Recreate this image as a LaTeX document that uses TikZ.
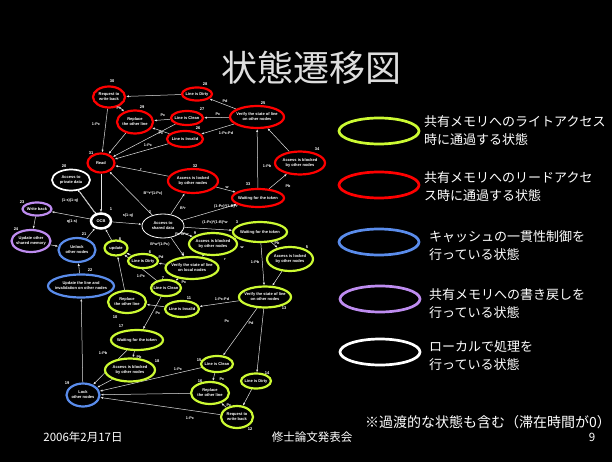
\documentclass[tikz,border=0pt]{standalone}
\usepackage{fontspec}
\setmainfont{Liberation Sans}
\newfontfamily\jp{Noto Sans CJK JP}
\usetikzlibrary{shapes.geometric,arrows.meta}
\definecolor{cG}{RGB}{204,250,51}
\definecolor{cR}{RGB}{255,0,0}
\definecolor{cB}{RGB}{90,140,235}
\definecolor{cP}{RGB}{190,140,240}
\definecolor{tgray}{RGB}{222,222,222}
\definecolor{egray}{RGB}{225,225,225}
\pgfdeclarelayer{back}
\pgfdeclarelayer{edges}
\pgfsetlayers{back,edges,main}
\begin{document}
\begin{tikzpicture}[x=1pt,y=-1pt,
  st/.style={ellipse, draw, fill=black, line width=2.2pt, inner sep=0pt},
  gn/.style={st, draw=cG},
  rd/.style={st, draw=cR},
  bl/.style={st, draw=cB},
  pu/.style={st, draw=cP},
  wh/.style={st, draw=white},
  txt/.style={text=white, align=center, inner sep=0pt, font=\bfseries\fontsize{4.0}{4.9}\selectfont},
  num/.style={text=white, inner sep=0pt, font=\bfseries\fontsize{4.0}{4}\selectfont},
  lbl/.style={text=white, inner sep=0pt, font=\bfseries\fontsize{3.8}{4}\selectfont},
  ed/.style={draw=egray, line width=0.5pt, -{Latex[length=2.8pt,width=2.2pt]}},
  leg/.style={ellipse, draw, line width=2.7pt, minimum width=80pt, minimum height=26pt, inner sep=0pt},
  legt/.style={text=white, anchor=west, align=left, inner sep=0pt, font=\jp\fontsize{13}{18}\selectfont},
  foot/.style={text=white, inner sep=0pt, font=\jp\fontsize{11.5}{12}\selectfont},
]
\begin{pgfonlayer}{back}
\fill[black] (0,0) rectangle (612,462);
\end{pgfonlayer}
\useasboundingbox (0,0) rectangle (612,462);

% title
\node[text=tgray, font=\jp\fontsize{36}{38}\selectfont, inner sep=0pt] (title) at (311,68) {状態遷移図};

% ---------- red nodes ----------
\node[rd, minimum width=32pt, minimum height=21pt] (reqR) at (109,97) {};
\node[txt] (reqRt) at (reqR) {Request to\\write back};
\node[num] (n30) at (112,81) {30};
\node[rd, minimum width=36pt, minimum height=23pt] (replR) at (135,122) {};
\node[txt] (replRt) at (replR) {Replace\\the other line};
\node[num] (n29) at (142,107) {29};
\node[rd, minimum width=30pt, minimum height=13pt] (dirtyR) at (197,94) {};
\node[txt] (dirtyRt) at (dirtyR) {Line is Dirty};
\node[num] (n28) at (205,84) {28};
\node[rd, minimum width=32pt, minimum height=14pt] (cleanR) at (187,118) {};
\node[txt] (cleanRt) at (cleanR) {Line is Clean};
\node[num] (n27) at (202,109) {27};
\node[rd, minimum width=36pt, minimum height=16pt] (invR) at (185,139) {};
\node[txt] (invRt) at (invR) {Line is Invalid};
\node[num] (n26) at (198,128) {26};
\node[rd, minimum width=54pt, minimum height=22pt] (verR) at (257,117) {};
\node[txt] (verRt) at (verR) {Verify the state of line\\on other nodes};
\node[num] (n25) at (263,103) {25};
\node[rd, minimum width=27pt, minimum height=19pt] (read) at (101,163) {};
\node[txt] (readt) at (read) {Read};
\node[num] (n31) at (91,153) {31};
\node[rd, minimum width=50pt, minimum height=24pt] (lockR) at (193,181) {};
\node[txt] (lockRt) at (lockR) {Access is locked\\by other nodes};
\node[num] (n32) at (195,166) {32};
\node[rd, minimum width=52pt, minimum height=18pt] (waitR) at (258,198) {};
\node[txt] (waitRt) at (waitR) {Waiting for the token};
\node[num] (n33) at (248,184) {33};
\node[rd, minimum width=50pt, minimum height=23pt] (blkR) at (300,163) {};
\node[txt] (blkRt) at (blkR) {Access is blocked\\by other nodes};
\node[num] (n34) at (317,149) {34};

% ---------- white nodes ----------
\node[wh, line width=1.7pt, minimum width=38pt, minimum height=21pt] (priv) at (71,180) {};
\node[txt] (privt) at (priv) {Access to\\private data};
\node[num] (n20) at (64,166) {20};
\node[wh, line width=2.5pt, minimum width=20pt, minimum height=15pt] (ocb) at (101,221) {};
\node[txt] (ocbt) at (ocb) {OCB};
\node[num] (n1) at (111,209) {1};
\node[wh, line width=0.8pt, minimum width=42pt, minimum height=24pt] (shared) at (163,226) {};
\node[txt] (sharedt) at (shared) {Access to\\shared data};
\node[num] (n2) at (150,212) {2};

% ---------- purple nodes ----------
\node[pu, minimum width=29pt, minimum height=13pt] (wb) at (37,209) {};
\node[txt] (wbt) at (wb) {Write back};
\node[num] (n23) at (22,202) {23};
\node[pu, minimum width=39pt, minimum height=22pt] (updO) at (31,241) {};
\node[txt] (updOt) at (updO) {Update other\\shared memory};
\node[num] (n24) at (16,229) {24};

% ---------- blue nodes ----------
\node[bl, minimum width=37pt, minimum height=24pt] (unlock) at (77,250) {};
\node[txt] (unlockt) at (unlock) {Unlock\\other nodes};
\node[num] (n21) at (84,234) {21};
\node[bl, minimum width=66pt, minimum height=23pt] (updL) at (81,286) {};
\node[txt] (updLt) at (updL) {Update the line and\\invalidation on other nodes};
\node[num] (n22) at (90,270) {22};
\node[bl, minimum width=33pt, minimum height=23pt] (lock) at (83,395) {};
\node[txt] (lockt) at (lock) {Lock\\other nodes};
\node[num] (n19) at (67,383) {19};

% ---------- green nodes ----------
\node[gn, minimum width=23pt, minimum height=15pt] (upd) at (116,248) {};
\node[txt] (updt) at (upd) {update};
\node[num] (n8) at (120,239) {8};
\node[gn, minimum width=30pt, minimum height=14pt] (dirtyG) at (143,261) {};
\node[txt] (dirtyGt) at (dirtyG) {Line is Dirty};
\node[num] (n6) at (150,252) {6};
\node[gn, minimum width=53pt, minimum height=22pt] (verL) at (192,268) {};
\node[txt] (verLt) at (verL) {Verify the state of line\\on local nodes};
\node[num] (n4) at (183,254) {4};
\node[gn, minimum width=48pt, minimum height=22pt] (blkG) at (213,244) {};
\node[txt] (blkGt) at (blkG) {Access is blocked\\by other nodes};
\node[num] (n9) at (195,233) {9};
\node[gn, minimum width=54pt, minimum height=20pt] (waitG) at (260,232) {};
\node[txt] (waitGt) at (waitG) {Waiting for the token};
\node[num] (n3) at (237,222) {3};
\node[gn, minimum width=46pt, minimum height=24pt] (lkG) at (290,259) {};
\node[txt] (lkGt) at (lkG) {Access is locked\\by other nodes};
\node[num] (n5) at (307,247) {5};
\node[gn, minimum width=30pt, minimum height=16pt] (cleanG) at (166,288) {};
\node[txt] (cleanGt) at (cleanG) {Line is Clean};
\node[num] (n7) at (163,278) {7};
\node[gn, minimum width=34pt, minimum height=16pt] (invG) at (182,309) {};
\node[txt] (invGt) at (invG) {Line is Invalid};
\node[num] (n11) at (189,298) {11};
\node[gn, minimum width=38pt, minimum height=22pt] (replG) at (127,302) {};
\node[txt] (replGt) at (replG) {Replace\\the other line};
\node[num] (n10) at (115,317) {10};
\node[gn, minimum width=52pt, minimum height=21pt] (verO) at (265,297) {};
\node[txt] (verOt) at (verO) {Verify the state of line\\on other nodes};
\node[num] (n13) at (284,308) {13};
\node[gn, minimum width=52pt, minimum height=20pt] (wait2) at (137,340) {};
\node[txt] (wait2t) at (wait2) {Waiting for the token};
\node[num] (n17) at (121,326) {17};
\node[gn, minimum width=50pt, minimum height=23pt] (blk2) at (130,370) {};
\node[txt] (blk2t) at (blk2) {Access is blocked\\by other nodes};
\node[num] (n18) at (157,361) {18};
\node[gn, minimum width=32pt, minimum height=16pt] (cleanL) at (217,364) {};
\node[txt] (cleanLt) at (cleanL) {Line is Clean};
\node[num] (n15) at (199,360) {15};
\node[gn, minimum width=30pt, minimum height=15pt] (dirtyL) at (256,381) {};
\node[txt] (dirtyLt) at (dirtyL) {Line is Dirty};
\node[num] (n14) at (267,373) {14};
\node[gn, minimum width=38pt, minimum height=22pt] (replL) at (210,393) {};
\node[txt] (replLt) at (replL) {Replace\\the other line};
\node[num] (n16) at (200,381) {16};
\node[gn, minimum width=32pt, minimum height=22pt] (reqL) at (237,417) {};
\node[txt] (reqLt) at (reqL) {Request to\\write back};
\node[num] (n12) at (250,429) {12};

% ---------- connectors ----------
\begin{pgfonlayer}{edges}
\draw[ed] (dirtyR) -- (reqR);
\draw[ed] (reqR) -- (replR);
\draw[ed] (reqR) -- (read);
\draw[ed] (cleanR) -- (replR);
\draw[ed] (invR) -- (replR);
\draw[ed] (replR) -- (read);
\draw[ed] (cleanR) -- (read);
\draw[ed] (invR) -- (read);
\draw[ed] (verR) -- (dirtyR);
\draw[ed] (verR) -- (cleanR);
\draw[ed] (verR) -- (invR);
\draw[ed] (waitR) -- (verR);
\draw[ed] (waitR) -- (blkR);
\draw[ed] (blkR) -- (verR);
\draw[ed] (lockR) -- (waitR);
\draw[ed] (lockR) -- (read);
\draw[ed] (shared) -- (read);
\draw[ed] (shared) -- (lockR);
\draw[ed] (shared) -- (waitR);
\draw[ed] (read) -- (ocb);
\draw[ed, transform canvas={xshift=-1.2pt,yshift=1.2pt}] (ocb) -- (priv);
\draw[ed, transform canvas={xshift=1.2pt,yshift=-1.2pt}] (priv) -- (ocb);
\draw[ed] (ocb) -- (shared);
\draw[ed] (ocb) -- (wb);
\draw[ed] (wb) -- (updO);
\draw[ed] (updO) -- (unlock);
\draw[ed] (unlock) -- (ocb);
\draw[ed] (upd) -- (ocb);
\draw[ed] (shared) -- (waitG);
\draw[ed] (shared) -- (blkG);
\draw[ed] (shared) -- (verL);
\draw[ed] (waitG) -- (lkG);
\draw[ed] (waitG) -- (verO);
\draw[ed] (lkG) -- (verO);
\draw[ed] (blkG) -- (waitG);
\draw[ed] (blkG) -- (verL);
\draw[ed] (verL) -- (dirtyG);
\draw[ed] (verL) -- (cleanG);
\draw[ed] (dirtyG) -- (upd);
\draw[ed] (cleanG) -- (upd);
\draw[ed] (invG) -- (replG);
\draw[ed] (replG) -- (upd);
\draw[ed] (cleanG) -- (wait2);
\draw[ed] (verO) -- (invG);
\draw[ed] (verO) -- (cleanL);
\draw[ed] (verO) -- (dirtyL);
\draw[ed] (cleanL) -- (replL);
\draw[ed] (cleanL) -- (lock);
\draw[ed] (dirtyL) -- (reqL);
\draw[ed] (reqL) -- (replL);
\draw[ed] (reqL) -- (lock);
\draw[ed] (replL) -- (lock);
\draw[ed] (wait2) -- (blk2);
\draw[ed] (wait2) -- (lock);
\draw[ed] (blk2) -- (lock);
\draw[ed] (lock) -- (updL);
\draw[ed] (updL) -- (unlock);
\end{pgfonlayer}

% ---------- connector labels ----------
\node[lbl] (e1) at (119,108) {Pc};
\node[lbl] (e2) at (96,124) {1-Pc};
\node[lbl] (e3) at (163,115) {Pc};
\node[lbl] (e4) at (161,133) {Pc};
\node[lbl] (e5) at (148,145) {1-Pc};
\node[lbl] (e6) at (225,101) {Pd};
\node[lbl] (e7) at (218,114) {Pc};
\node[lbl] (e8) at (226,133) {1-Pc-Pd};
\node[lbl] (e9) at (267,166) {1-Pb};
\node[lbl] (e10) at (288,186) {Pb};
\node[lbl] (e11) at (227,187) {w};
\node[lbl] (e12) at (141,169) {r};
\node[lbl] (e13) at (153,194) {B'*r*(1-Pc)};
\node[lbl] (e14) at (183,208) {B*r};
\node[lbl] (e15) at (226,207) {(1-Pc)*(1-B)*r};
\node[lbl] (e16) at (70,201) {(1-s)(1-q)};
\node[lbl] (e17) at (128,216) {s(1-q)};
\node[lbl] (e18) at (72,222) {q(1-s)};
\node[lbl] (e19) at (215,223) {(1-Pc)*(1-B)*w};
\node[lbl] (e20) at (182,234) {Pc*B*w};
\node[lbl] (e21) at (160,245) {B*w*(1-Pc)};
\node[lbl] (e22) at (277,243) {Pb};
\node[lbl] (e23) at (255,262) {1-Pb};
\node[lbl] (e24) at (242,247) {w};
\node[lbl] (e25) at (225,259) {r};
\node[lbl] (e26) at (161,257) {Pd};
\node[lbl] (e27) at (184,282) {Pc};
\node[lbl] (e28) at (141,276) {1-Pc};
\node[lbl] (e29) at (158,313) {Pc};
\node[lbl] (e30) at (222,299) {1-Pc-Pd};
\node[lbl] (e31) at (227,321) {Pc};
\node[lbl] (e32) at (251,323) {Pd};
\node[lbl] (e33) at (222,379) {Pc};
\node[lbl] (e34) at (178,369) {1-Pc};
\node[lbl] (e35) at (229,405) {Pc};
\node[lbl] (e36) at (190,418) {1-Pc};
\node[lbl] (e37) at (139,357) {Pb};
\node[lbl] (e38) at (103,353) {1-Pb};

% ---------- legend ----------
\node[leg, draw=cG] (legG) at (379,131) {};
\node[leg, draw=cR] (legR) at (379,185) {};
\node[leg, draw=cB] (legB) at (379,242) {};
\node[leg, draw=cP] (legP) at (380,299) {};
\node[leg, draw=white] (legW) at (380,352) {};
\node[legt] (legGt) at (424,131) {共有メモリへのライトアクセス\\時に通過する状態};
\node[legt] (legRt) at (424,187) {共有メモリへのリードアクセ\\ス時に通過する状態};
\node[legt] (legBt) at (429,246) {キャッシュの一貫性制御を\\行っている状態};
\node[legt] (legPt) at (429,304) {共有メモリへの書き戻しを\\行っている状態};
\node[legt] (legWt) at (429,356) {ローカルで処理を\\行っている状態};

% ---------- footer ----------
\node[text=white, anchor=west, inner sep=0pt, font=\jp\fontsize{14}{15}\selectfont] (note) at (365,422) {※過渡的な状態も含む（滞在時間が0）};
\node[foot] (date) at (83,437) {2006年2月17日};
\node[foot] (event) at (312,437) {修士論文発表会};
\node[foot] (page) at (592,437) {9};
\end{tikzpicture}
\end{document}
